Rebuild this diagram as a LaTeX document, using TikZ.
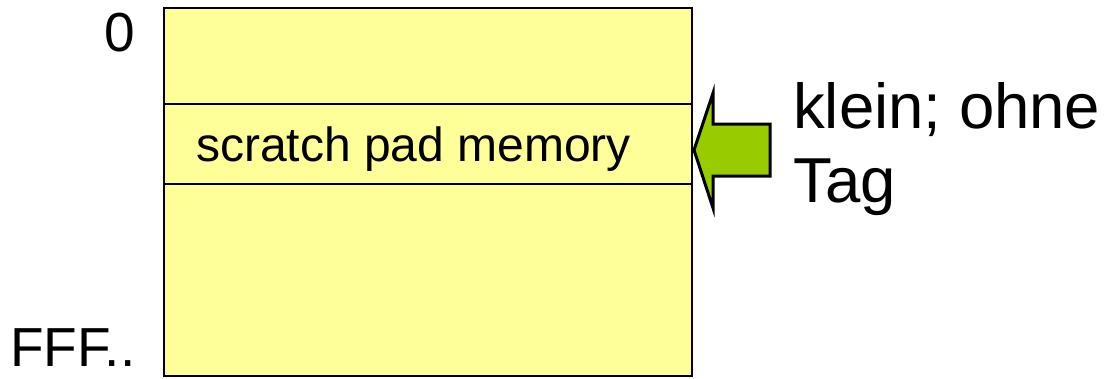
\documentclass[tikz,border=0pt]{standalone}
\usepackage{fontspec}
\setmainfont{Liberation Sans}
\definecolor{memyellow}{HTML}{FFFF99}
\definecolor{arrowgreen}{HTML}{99CC00}
\begin{document}
\begin{tikzpicture}[x=1pt,y=-1pt,
  memline/.style={line width=2.8pt,draw=black},
  lbl/.style={inner sep=0pt,font=\fontsize{55}{62}\selectfont},
  sptext/.style={inner sep=0pt,font=\fontsize{48}{54}\selectfont},
  rtext/.style={inner sep=0pt,font=\fontsize{63.5}{72}\selectfont,align=left}]
\useasboundingbox (0,0) rectangle (1105,378);
\fill[white] (0,0) rectangle (1105,378);
% memory box
\coordinate (tl) at (164,8);
\coordinate (br) at (692,376);
\filldraw[memline,fill=memyellow] (tl) rectangle (br);
\coordinate (l1a) at (164,104); \coordinate (l1b) at (692,104);
\coordinate (l2a) at (164,184); \coordinate (l2b) at (692,184);
\draw[memline] (l1a) -- (l1b);
\draw[memline] (l2a) -- (l2b);
\node[sptext,anchor=base west] (sp) at (196,161) {scratch pad memory};
% labels
\node[lbl,anchor=base] (zero) at (120,51) {0};
\node[lbl,anchor=base west] (fff) at (10,366) {FFF..};
% arrow
\filldraw[line width=3pt,fill=arrowgreen,draw=black,line join=miter]
  (694,150) -- (713,93) -- (713,124) -- (770,124) -- (770,176) -- (713,176) -- (713,208) -- cycle;
% right text
\node[rtext,anchor=base west] (kl) at (793,128) {klein; ohne};
\node[rtext,anchor=base west] (tag) at (793,202) {Tag};
\end{tikzpicture}
\end{document}
